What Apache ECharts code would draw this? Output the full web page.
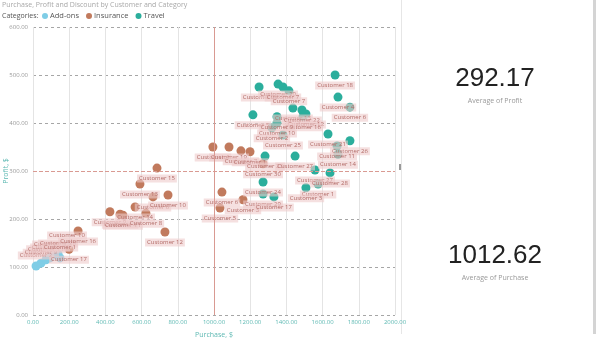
<!DOCTYPE html>
<html>
<head>
<meta charset="utf-8">
<script src="https://cdn.jsdelivr.net/npm/echarts@6/dist/echarts.min.js"></script>
<style>
  html, body { margin: 0; padding: 0; background: #fff; }
  #chart { width: 600px; height: 354px; }
</style>
</head>
<body>
<div id="chart"></div>
<script>
var chartDom = document.getElementById('chart');
var myChart = echarts.init(chartDom);

// category names
var categories = ['Add-ons', 'Insurance', 'Travel'];

// Add-ons: purchase, profit, customer
var addonsPurchase = [17, 44, 72, 94, 105, 138, 149, 188];
var addonsProfit = [102, 108, 115, 119, 125, 127, 119, 144];
var addonsNames = ['Customer 2', 'Customer 9', 'Customer 11', 'Customer 19', 'Customer 22', 'Customer 28', 'Customer 1', 'Customer 10'];

// Insurance
var insurancePurchase = [199, 249, 425, 481, 497, 564, 624, 729, 591, 663, 685, 746, 994, 1083, 1149, 1199, 1271, 1044, 1160, 1033];
var insuranceProfit = [137, 175, 215, 210, 208, 225, 212, 173, 273, 246, 306, 250, 350, 350, 342, 340, 315, 256, 240, 223];
var insuranceNames = ['Customer 17', 'Customer 16', 'Customer 9', 'Customer 2', 'Customer 11', 'Customer 14', 'Customer 8', 'Customer 12', 'Customer 13', 'Customer 6', 'Customer 15', 'Customer 10', 'Customer 4', 'Customer 19', 'Customer 7', 'Customer 1', 'Customer 30', 'Customer 6', 'Customer 3', 'Customer 5'];

// Travel
var travelPurchase = [1669, 1249, 1354, 1381, 1414, 1685, 1751, 1436, 1486, 1508, 1492, 1215, 1348, 1348, 1320, 1381, 1630, 1751, 1680, 1685, 1558, 1641, 1575, 1508, 1282, 1448, 1271, 1271, 1331];
var travelProfit = [500, 475, 481, 475, 467, 454, 433, 431, 427, 419, 413, 417, 413, 400, 390, 375, 377, 363, 352, 335, 302, 296, 273, 265, 331, 331, 277, 252, 246];
var travelNames = ['Customer 18', 'Customer 8', 'Customer 20', 'Customer 7', 'Customer 7', 'Customer 4', 'Customer 6', 'Customer 13', 'Customer 22', 'Customer 12', 'Customer 16', 'Customer 5', 'Customer 9', 'Customer 10', 'Customer 2', 'Customer 25', 'Customer 21', 'Customer 26', 'Customer 11', 'Customer 14', 'Customer 27', 'Customer 28', 'Customer 1', 'Customer 3', 'Customer 23', 'Customer 27', 'Customer 24', 'Customer 29', 'Customer 17'];

// reference lines and KPI cards
var refPurchase = 1000;
var refProfit = 300;
var kpiValues = ['292.17', '1012.62'];
var kpiLabels = ['Average of Profit', 'Average of Purchase'];

var colors = ['#7fcde6', '#c17a5d', '#2bae9c'];

function toPoints(xs, ys, names) {
  return xs.map(function (x, i) {
    return { name: names[i], value: [x, ys[i]] };
  });
}

var labelStyle = {
  show: true,
  position: 'bottom',
  distance: 2,
  formatter: '{b}',
  fontSize: 6,
  color: '#b26a66',
  backgroundColor: 'rgba(238,204,204,0.6)',
  padding: [1, 2]
};

var series = [
  { x: addonsPurchase, y: addonsProfit, n: addonsNames },
  { x: insurancePurchase, y: insuranceProfit, n: insuranceNames },
  { x: travelPurchase, y: travelProfit, n: travelNames }
].map(function (s, i) {
  return {
    name: categories[i],
    type: 'scatter',
    symbolSize: 9,
    itemStyle: { color: colors[i], opacity: 1 },
    label: i === 0 ? Object.assign({}, labelStyle, { position: 'top' }) : labelStyle,
    data: toPoints(s.x, s.y, s.n)
  };
});

series[1].markLine = {
  silent: true,
  symbol: ['none', 'none'],
  label: { show: false },
  data: [
    { xAxis: refPurchase, lineStyle: { color: '#d99a92', width: 1, type: 'solid' } },
    { yAxis: refProfit, lineStyle: { color: '#d99a92', width: 1, type: [4, 2] } }
  ]
};

var kpiGraphics = [];
kpiValues.forEach(function (v, i) {
  var top = i === 0 ? 66 : 243;
  kpiGraphics.push({
    type: 'text',
    x: 495, y: top,
    style: { text: v, fontSize: 26, fill: '#222', fontFamily: 'Liberation Sans', textAlign: 'center', textVerticalAlign: 'top' }
  });
  kpiGraphics.push({
    type: 'text',
    x: 495, y: top + 31,
    style: { text: kpiLabels[i], fontSize: 7, fill: '#999', fontFamily: 'Open Sans', textAlign: 'center', textVerticalAlign: 'top' }
  });
});

var option = {
  backgroundColor: '#fff',
  animation: false,
  textStyle: { fontFamily: 'Open Sans' },
  title: [
    {
      text: 'Purchase, Profit and Discount by Customer and Category',
      left: 2, top: 1, padding: 0,
      textStyle: { fontSize: 7, fontWeight: 'normal', color: '#a8a8a8' }
    },
    {
      text: 'Categories:',
      left: 2, top: 12, padding: 0,
      textStyle: { fontSize: 7, fontWeight: 'normal', color: '#555' }
    }
  ],
  legend: {
    data: categories,
    left: 42, top: 12, padding: 0,
    icon: 'circle',
    itemWidth: 6, itemHeight: 6, itemGap: 7,
    textStyle: { fontSize: 7.5, color: '#555', padding: [0, 0, 0, -3] }
  },
  grid: { left: 33, right: 205, top: 27, bottom: 39, containLabel: false, outerBoundsMode: 'none' },
  xAxis: {
    type: 'value',
    min: 0, max: 2000, interval: 200,
    name: 'Purchase, $',
    nameLocation: 'middle',
    nameGap: 16,
    nameMoveOverlap: false,
    nameTextStyle: { color: '#5cb8b2', fontSize: 7 },
    axisLine: { show: false },
    axisTick: { show: false },
    axisLabel: {
      color: '#5cb8b2', fontSize: 6, margin: 4,
      formatter: function (v) { return v.toFixed(2); }
    },
    splitLine: { show: true, lineStyle: { color: '#e4e4e4', width: 1, type: 'solid' } }
  },
  yAxis: {
    type: 'value',
    min: 0, max: 600, interval: 100,
    name: 'Profit, $',
    nameLocation: 'middle',
    nameGap: 24,
    nameMoveOverlap: false,
    nameTextStyle: { color: '#5cb8b2', fontSize: 7 },
    axisLine: { show: false },
    axisTick: { show: false },
    axisLabel: {
      color: '#999', fontSize: 6, margin: 5,
      formatter: function (v) { return v.toFixed(2); }
    },
    splitLine: { show: true, lineStyle: { color: '#a6a6a6', width: 1, type: [3, 3] } }
  },
  graphic: [
    { type: 'rect', shape: { x: 401, y: 0, width: 1, height: 334 }, style: { fill: '#e6e6e6' } },
    { type: 'rect', shape: { x: 593, y: 0, width: 3, height: 334 }, style: { fill: '#d4d4d4' } },
    { type: 'rect', shape: { x: 399, y: 164, width: 2, height: 6 }, style: { fill: '#999' } }
  ].concat(kpiGraphics),
  series: series
};

option && myChart.setOption(option);
</script>
</body>
</html>
